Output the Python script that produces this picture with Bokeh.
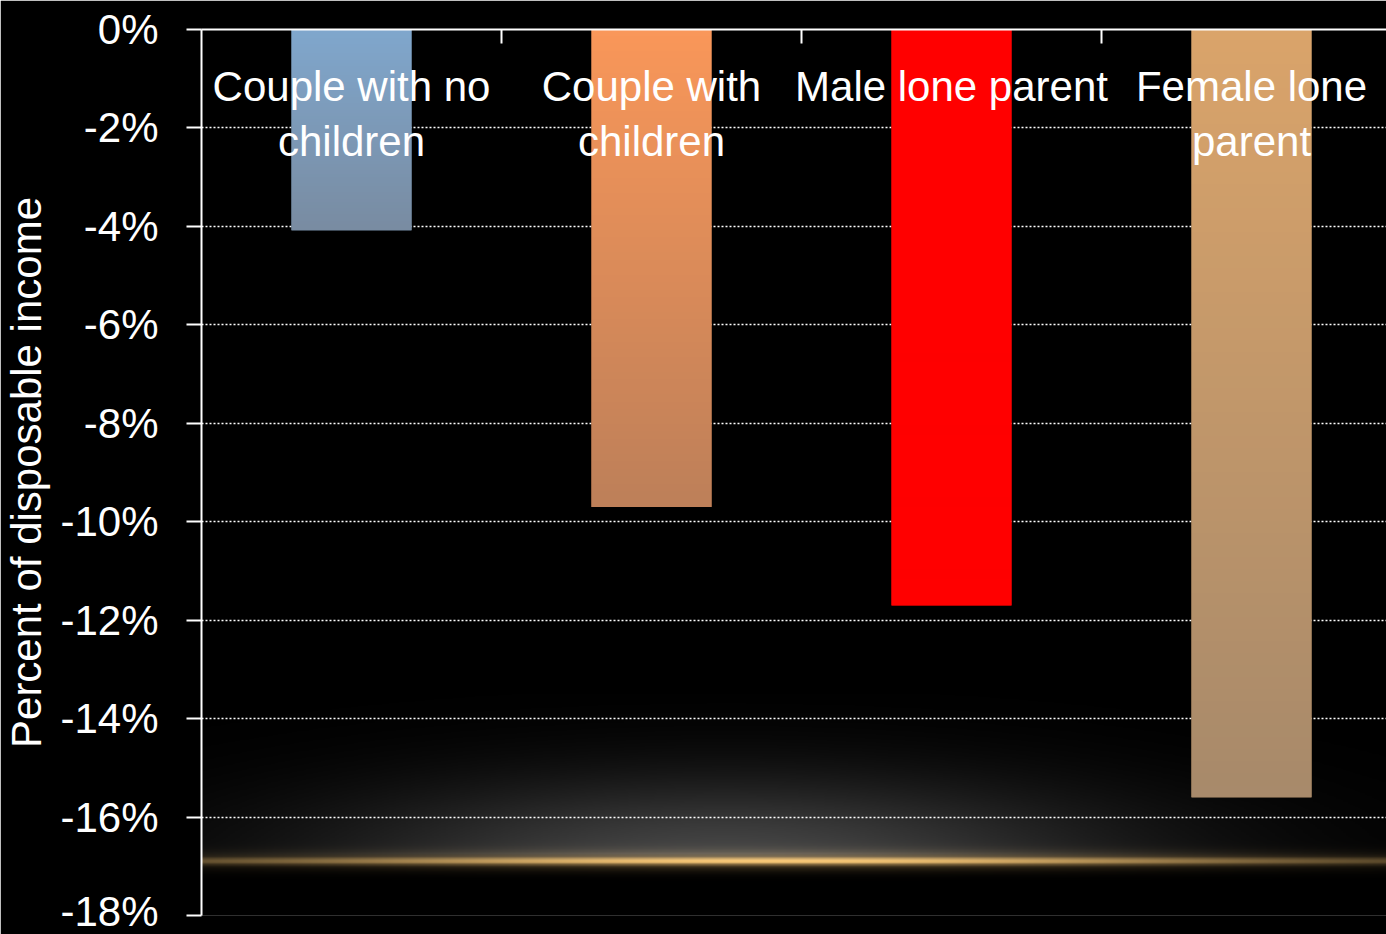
import numpy as np
from bokeh.plotting import figure
from bokeh.models import Range1d, FixedTicker, CustomLabelingPolicy
from bokeh.core.properties import value
from bokeh.embed import file_html
from bokeh.resources import INLINE

# ---- data ----
categories = ["Couple with no\nchildren", "Couple with\nchildren", "Male lone parent", "Female lone\nparent"]
values = [-4.08, -9.70, -11.70, -15.60]
y_ticks = [0, -2, -4, -6, -8, -10, -12, -14, -16, -18]
y_tick_labels = ["0%", "-2%", "-4%", "-6%", "-8%", "-10%", "-12%", "-14%", "-16%", "-18%"]

# ---- style ----
top_colors = [(128, 167, 205), (249, 151, 90), (255, 0, 0), (218, 164, 106)]
bottom_colors = [(121, 140, 162), (190, 128, 89), (255, 0, 0), (168, 138, 107)]
base_colors = ["#7D9BBA", "#DC8C5A", "#FF0000", "#C29A6C"]
FONT = "Liberation Sans"
GLOW_LEVEL = -16.9

x_pos = [i + 0.5 for i in range(len(categories))]
line1 = [c.split("\n")[0] for c in categories]
line2 = [c.split("\n")[1] if "\n" in c else "" for c in categories]
x2 = [x for x, t in zip(x_pos, line2) if t]
t2 = [t for t in line2 if t]

p = figure(width=1386, height=934, x_range=Range1d(0, 3.95), y_range=Range1d(-18, 0),
           x_axis_location="above", output_backend="svg", toolbar_location=None,
           min_border_left=201, min_border_top=29, min_border_bottom=19, min_border_right=0)
p.background_fill_color = "black"
p.border_fill_color = "black"
p.outline_line_color = None

# decorative glow (behind grid)
nx, ny = 500, 300
gx = np.linspace(0, 3.95, nx)
gy = np.linspace(-18, -13.5, ny)
X, Y = np.meshgrid(gx, gy)
core = np.exp(-((Y - GLOW_LEVEL) / 0.07) ** 2) * 0.8 + np.exp(-((Y - GLOW_LEVEL) / 0.2) ** 2) * 0.3
hor = 0.22 + 0.78 * np.exp(-((X - 1.9) / 1.6) ** 2)
core = core * hor
halo = np.exp(-((X - 1.75) / 1.35) ** 2 - ((Y - GLOW_LEVEL) / 1.7) ** 2) * (Y > GLOW_LEVEL)
halo = halo * np.clip((Y - GLOW_LEVEL) / 0.15, 0, 1)
r = np.clip(core * 230 + halo * 70, 0, 255)
g = np.clip(core * 185 + halo * 70, 0, 255)
b = np.clip(core * 110 + halo * 70, 0, 255)
glow = np.empty((ny, nx), dtype=np.uint32)
gv = glow.view(dtype=np.uint8).reshape((ny, nx, 4))
gv[:, :, 0] = r
gv[:, :, 1] = g
gv[:, :, 2] = b
gv[:, :, 3] = 255
p.image_rgba(image=[glow], x=0, y=-18, dw=3.95, dh=4.5, level="image")

# bars
p.vbar(x=x_pos, top=0, bottom=values, width=0.4, fill_color=base_colors, line_color=None)

# gradient overlays
imgs, xs, ys, dws, dhs = [], [], [], [], []
for i, v in enumerate(values):
    n = 64
    img = np.empty((n, 2), dtype=np.uint32)
    iv = img.view(dtype=np.uint8).reshape((n, 2, 4))
    t = np.linspace(0, 1, n)[:, None]  # 0 bottom -> 1 top
    for c in range(3):
        iv[:, :, c] = (bottom_colors[i][c] * (1 - t) + top_colors[i][c] * t).astype(np.uint8)
    iv[:, :, 3] = 255
    imgs.append(img)
    xs.append(x_pos[i] - 0.2)
    ys.append(v)
    dws.append(0.4)
    dhs.append(-v)
p.image_rgba(image=imgs, x=xs, y=ys, dw=dws, dh=dhs)

# category labels (inside plot, below the top axis)
p.text(x=x_pos, y=[0] * len(line1), text=line1, text_align="center", text_baseline="alphabetic",
       y_offset=57, text_color="white", text_font=value(FONT), text_font_size="42px")
p.text(x=x2, y=[0] * len(t2), text=t2, text_align="center", text_baseline="alphabetic",
       y_offset=112, text_color="white", text_font=value(FONT), text_font_size="42px")

# axes
xa = p.xaxis[0]
xa.ticker = FixedTicker(ticks=[1, 2, 3])
xa.major_tick_in = 14
xa.major_tick_out = 0
xa.minor_tick_line_color = None
xa.major_label_policy = CustomLabelingPolicy(code="return new Set()")
xa.axis_line_color = "white"
xa.axis_line_width = 2
xa.major_tick_line_color = "white"
xa.major_tick_line_width = 2

ya = p.yaxis[0]
ya.ticker = FixedTicker(ticks=y_ticks)
ya.major_label_overrides = {t: l for t, l in zip(y_ticks, y_tick_labels)}
ya.major_tick_in = 0
ya.major_tick_out = 15
ya.minor_tick_line_color = None
ya.major_tick_line_color = "white"
ya.major_tick_line_width = 2
ya.axis_line_color = "white"
ya.axis_line_width = 2
ya.major_label_standoff = 28
ya.major_label_text_color = "white"
ya.major_label_text_font = FONT
ya.major_label_text_font_size = "42px"
ya.axis_label = "Percent of disposable income"
ya.axis_label_text_color = "white"
ya.axis_label_text_font = FONT
ya.axis_label_text_font_style = "normal"
ya.axis_label_text_font_size = "42px"
ya.axis_label_standoff = 7

p.xgrid.visible = False
p.ygrid.ticker = FixedTicker(ticks=y_ticks[1:])
p.ygrid.grid_line_color = "white"
p.ygrid.grid_line_width = 1.5
p.ygrid.grid_line_dash = "2 2"

open("out.html", "w").write(file_html(p, INLINE))
